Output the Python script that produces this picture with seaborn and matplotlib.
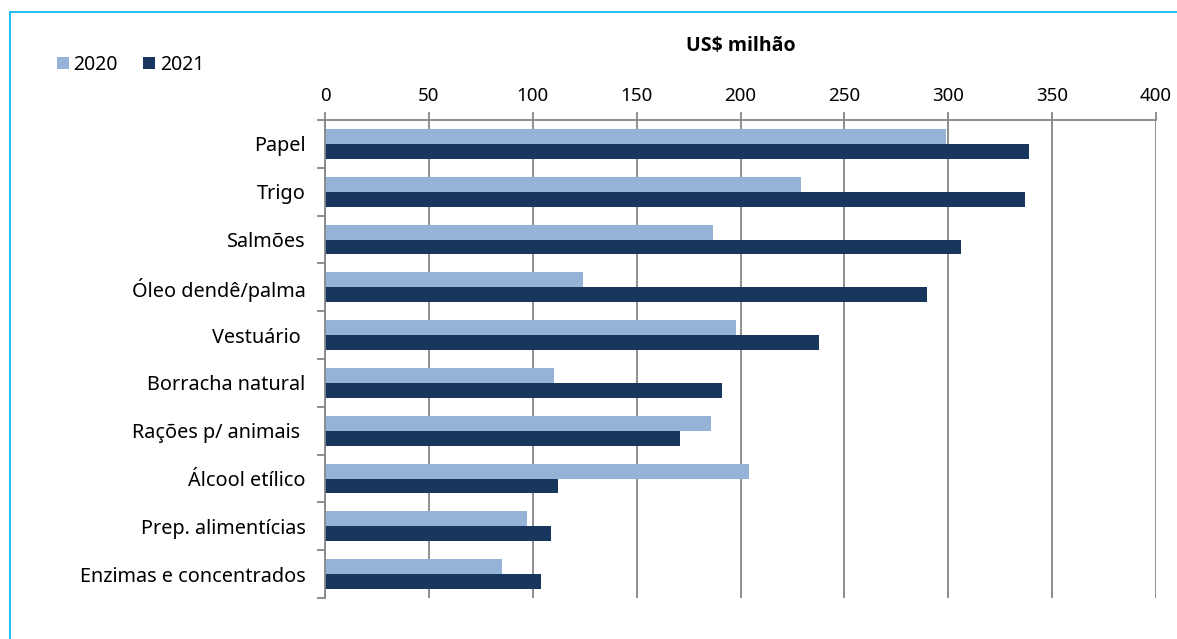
import matplotlib
matplotlib.use('Agg')
import matplotlib.pyplot as plt
import pandas as pd
import seaborn as sns
from matplotlib.lines import Line2D
from matplotlib.ticker import FixedLocator

# Values (US$ million)
categories = ['Papel', 'Trigo', 'Salmões', 'Óleo dendê/palma', 'Vestuário ',
              'Borracha natural', 'Rações p/ animais ', 'Álcool etílico',
              'Prep. alimentícias', 'Enzimas e concentrados']
values_2020 = [299, 229, 187, 124, 198, 110, 186, 204, 97, 85]
values_2021 = [339, 337, 306, 290, 238, 191, 171, 112, 109, 104]
years = ['2020', '2021']
colors = ['#95B3D7', '#17375E']
x_ticks = [0, 50, 100, 150, 200, 250, 300, 350, 400]

df = pd.DataFrame({
    'Produto': categories * 2,
    'Ano': [years[0]] * len(categories) + [years[1]] * len(categories),
    'Valor': values_2020 + values_2021,
})

sns.set_style('white')
plt.rcParams['font.family'] = ['Noto Sans', 'DejaVu Sans']
plt.rcParams['text.color'] = 'black'
plt.rcParams['axes.labelcolor'] = 'black'
plt.rcParams['xtick.labelcolor'] = 'black'
plt.rcParams['ytick.labelcolor'] = 'black'

grid_col = '#868686'
fig = plt.figure(figsize=(11.77, 6.39), dpi=100, facecolor='white')
ax = fig.add_axes([325 / 1177, 1 - 598 / 639, (1156 - 325) / 1177, (598 - 120) / 639])

sns.barplot(data=df, x='Valor', y='Produto', hue='Ano', orient='h',
            palette=colors, width=0.62, saturation=1, linewidth=0,
            ax=ax, legend=True)

ax.set_xlim(0, 400)
ax.set_ylim(len(categories) - 0.5, -0.5)
ax.set_xticks(x_ticks)
ax.xaxis.tick_top()
ax.xaxis.set_label_position('top')
ax.tick_params(axis='x', which='major', direction='out', length=6, width=1.3,
               color=grid_col, labelsize=13.5, pad=5, labelcolor='black')
ax.set_xlabel('US$ milhão', fontsize=14, fontweight='bold', labelpad=26,
              family=['Open Sans', 'Noto Sans', 'DejaVu Sans'], color='black')
ax.set_ylabel('')

# category ticks at the boundaries, labels centred
ax.yaxis.set_minor_locator(FixedLocator([i - 0.5 for i in range(len(categories) + 1)]))
ax.tick_params(axis='y', which='major', length=0, labelsize=14.3, pad=14, labelcolor='black')
ax.tick_params(axis='y', which='minor', direction='out', length=6, width=1.3,
               color=grid_col, left=True)

ax.grid(axis='x', color=grid_col, linewidth=1.3)
ax.set_axisbelow(True)
for side in ['right', 'bottom']:
    ax.spines[side].set_visible(False)
for side in ['top', 'left']:
    ax.spines[side].set_color(grid_col)
    ax.spines[side].set_linewidth(1.3)

handles, labels = ax.get_legend_handles_labels()
ax.get_legend().remove()
fig.legend(handles, labels, loc='center left', bbox_to_anchor=(57 / 1177, 1 - 65 / 639),
           ncol=2, frameon=False, fontsize=14, borderpad=0, borderaxespad=0,
           handlelength=0.6, handleheight=0.6, handletextpad=0.25, columnspacing=1.3,
           labelcolor='black')

# light blue frame on the top and left edges
fig.add_artist(Line2D([10 / 1177, 10 / 1177], [0, 1 - 12 / 639], color='#00B0F0', linewidth=1.2))
fig.add_artist(Line2D([10 / 1177, 1], [1 - 12 / 639, 1 - 12 / 639], color='#00B0F0', linewidth=1.2))

fig.savefig('out.png', dpi=100, facecolor='white')
